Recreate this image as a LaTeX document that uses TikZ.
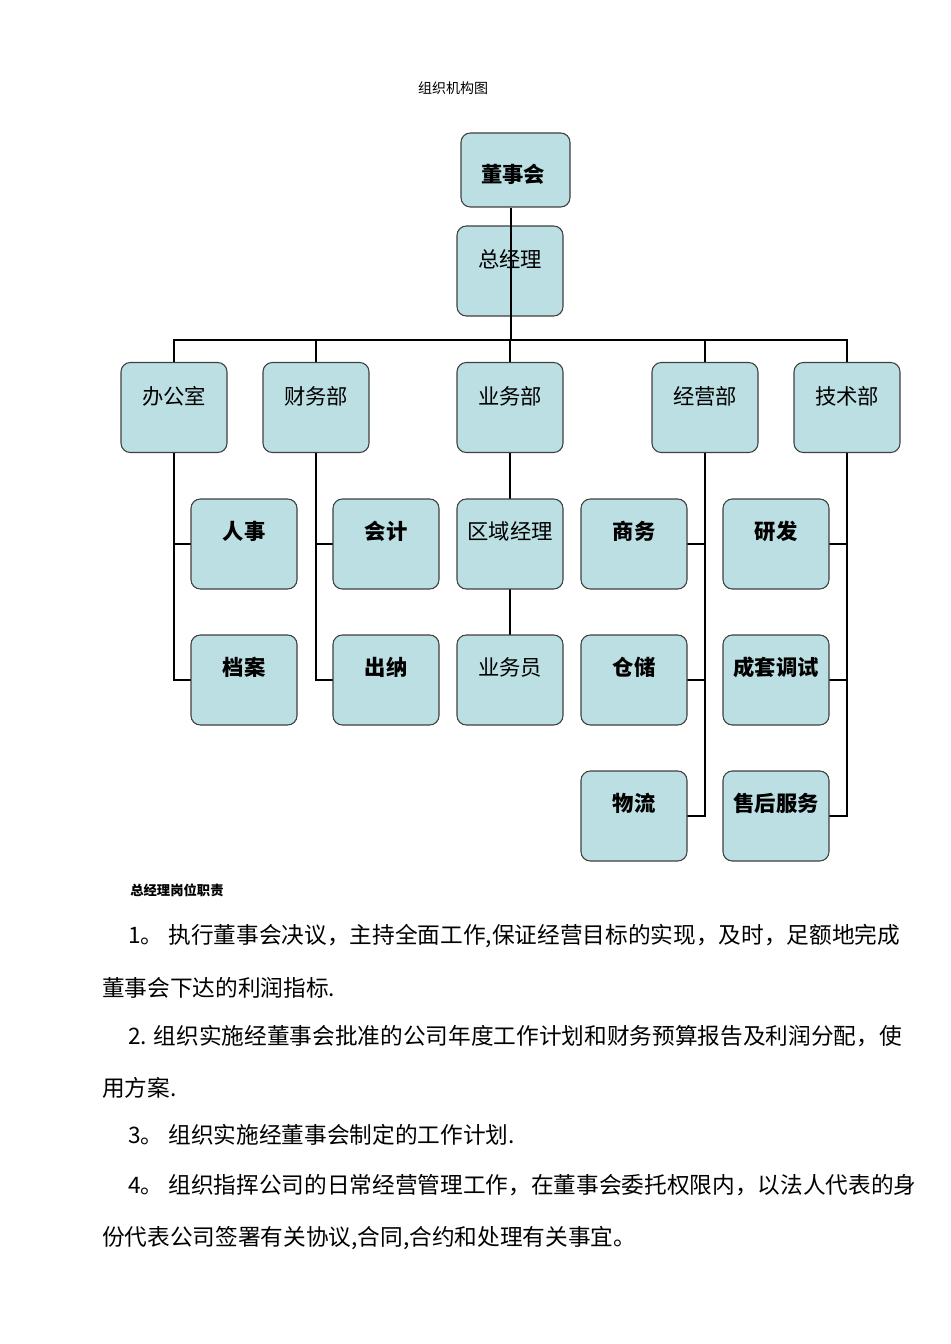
\documentclass[tikz,border=0pt]{standalone}
\usepackage{fontspec}
\setmainfont{Noto Sans CJK SC}
\begin{document}
\begin{tikzpicture}[x=0.75pt,y=-0.75pt,
  bx/.style={draw=black!75,line width=0.8pt,fill=bxc,rounded corners=7pt,minimum width=79.5pt,minimum height=67.5pt,inner sep=0pt},
  ln/.style={line width=2pt,black},
  tx/.style={anchor=west,inner sep=0pt,font=\fontsize{17pt}{19pt}\selectfont}]
\definecolor{bxc}{HTML}{BBDFE2}
\useasboundingbox (0,0) rectangle (950,1344);
\node[font=\fontsize{10.5pt}{12pt}\selectfont] (title) at (453,88) {组织机构图};
\node[bx,minimum width=81.75pt,minimum height=55.5pt] (dsh) at (515.5,170) {};
\node[font=\fontsize{16pt}{18pt}\selectfont\bfseries] (dsht) at (513,174) {董事会};
\node[bx] (zjl) at (510,271) {};
\draw[ln] (dsh.south -| 511,0) -- (511,340) coordinate (bus);
\node (zjlt) at (510,259) {\fontsize{16pt}{18pt}\selectfont 总经理};
\draw[ln] (174,363) -- (174,340) -- (847,340) -- (847,363);
\foreach \x in {316,510,705} \draw[ln] (\x,340) -- (\x,363);
\draw[ln] (174,452) -- (174,680) -- (191,680);
\draw[ln] (174,544) -- (191,544);
\draw[ln] (316,452) -- (316,680) -- (333,680);
\draw[ln] (316,544) -- (333,544);
\draw[ln] (510,452) -- (510,499);
\draw[ln] (510,589) -- (510,635);
\draw[ln] (705,452) -- (705,816) -- (687,816);
\draw[ln] (705,544) -- (687,544);
\draw[ln] (705,680) -- (687,680);
\draw[ln] (847,452) -- (847,816) -- (829,816);
\draw[ln] (847,544) -- (829,544);
\draw[ln] (847,680) -- (829,680);
\foreach \n/\x/\t in {bgs/174/办公室,cwb/316/财务部,ywb/510/业务部,jyb/705/经营部,jsb/847/技术部}{
  \node[bx] (\n) at (\x,407.5) {};
  \node at (\x,396) {\fontsize{16pt}{18pt}\selectfont \t};}
\foreach \n/\x/\y/\t in {rs/244/544/人事,da/244/680/档案,kj/386/544/会计,cn/386/680/出纳,sw/634/544/商务,cc/634/680/仓储,wl/634/816/物流,yf/776/544/研发,cttS/776/680/成套调试,shfw/776/816/售后服务}{
  \node[bx] (\n) at (\x,\y) {};
  \node at (\x,\y-13) {\fontsize{16pt}{18pt}\selectfont\bfseries \t};}
\foreach \n/\y/\t in {qyjl/544/区域经理,ywy/680/业务员}{
  \node[bx] (\n) at (510,\y) {};
  \node at (510,\y-13) {\fontsize{16pt}{18pt}\selectfont \t};}
\node[tx,font=\fontsize{10pt}{12pt}\selectfont\bfseries] (h) at (130,890) {总经理岗位职责};
\node[tx] (l1) at (128,936) {1。 执行董事会决议，主持全面工作,保证经营目标的实现，及时，足额地完成};
\node[tx] (l2) at (102,988) {董事会下达的利润指标.};
\node[tx] (l3) at (128,1036) {2. 组织实施经董事会批准的公司年度工作计划和财务预算报告及利润分配，使};
\node[tx] (l4) at (102,1088) {用方案.};
\node[tx] (l5) at (128,1135) {3。 组织实施经董事会制定的工作计划.};
\node[tx] (l6) at (128,1185) {4。 组织指挥公司的日常经营管理工作，在董事会委托权限内，以法人代表的身};
\node[tx] (l7) at (102,1238) {份代表公司签署有关协议,合同,合约和处理有关事宜。};
\end{tikzpicture}
\end{document}
